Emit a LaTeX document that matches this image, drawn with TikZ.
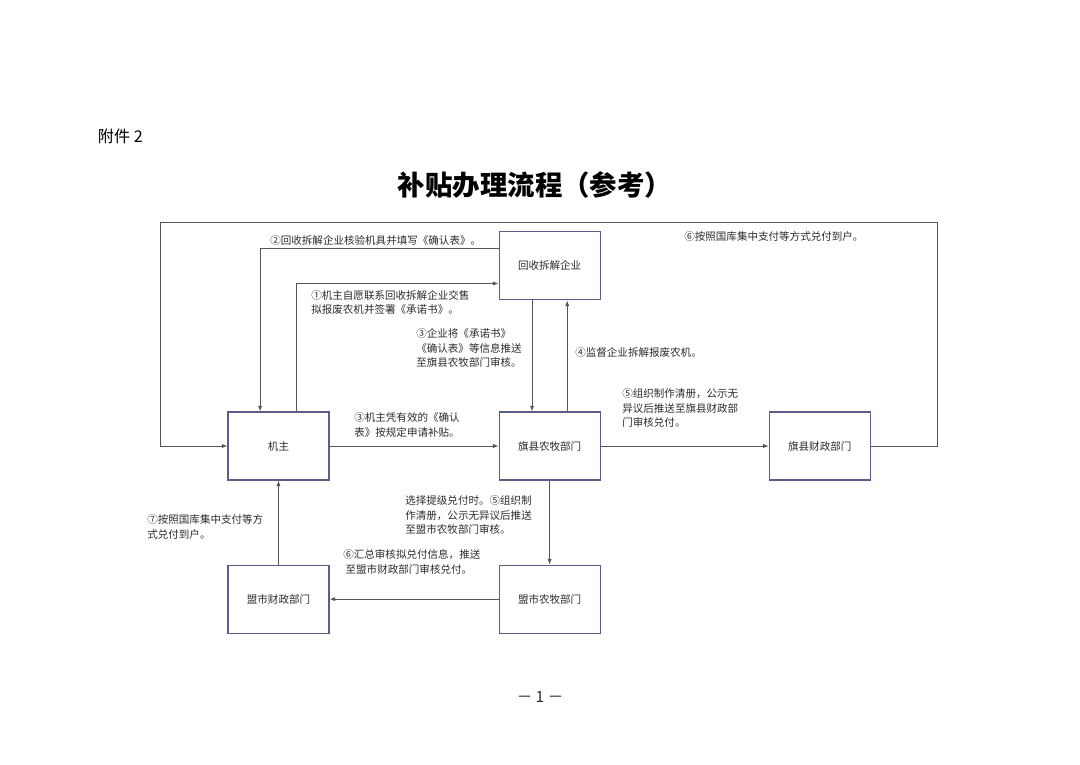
\documentclass[tikz,border=0pt]{standalone}
\usepackage{fontspec}
\setmainfont{Noto Sans CJK SC}
\usetikzlibrary{positioning,arrows.meta}
\definecolor{boxline}{HTML}{5A5C8A}
\definecolor{edgeline}{HTML}{555555}
\definecolor{txt}{HTML}{2B2B2B}
\tikzset{
	box/.style={draw=boxline, line width=0.8pt, minimum width=2.525cm, minimum height=1.7cm, font=\fontsize{7.5}{9}\selectfont, text=txt},
	arr/.style={-{Latex[length=4pt,width=3pt]}, draw=edgeline, line width=0.6pt},
	lab/.style={font=\fontsize{7.5}{10.5}\selectfont, text=txt, align=left, inner sep=0pt, anchor=west},
}
\begin{document}
\begin{tikzpicture}
		\useasboundingbox (0,0) rectangle (27,-19.1);
		% page head
		\node[anchor=west, font=\fontsize{11.5}{13}\selectfont] (fujian) at (2.325,-3.4) {附件 2};
		\node[font=\fontsize{19.5}{22}\selectfont\bfseries] (title) at (13.375,-4.625) {补贴办理流程（参考）};
		\node[font=\fontsize{11}{13}\selectfont, text=txt] (pagenum) at (13.5,-17.425) {－ 1 －};
		% boxes
		\node[box] (jizhu) at (6.9625,-11.15) {机主};
		\node[box, right=4.225cm of jizhu] (qxnm) {旗县农牧部门};
		\node[box, above=2.775cm of qxnm] (huishou) {回收拆解企业};
		\node[box, right=4.2cm of qxnm] (qxcz) {旗县财政部门};
		\node[box, below=2.1cm of qxnm] (msnm) {盟市农牧部门};
		\node[box, below=2.1cm of jizhu] (mscz) {盟市财政部门};
		% corners of the outer loop
		\coordinate (ne) at (23.425,-5.55);
		\coordinate (nw) at (4.0,-5.55);
		% labels
		\node[lab] (lab2) at (6.75,-6.0) {②回收拆解企业核验机具并填写《确认表》。};
		\node[lab] (lab1) at (7.775,-7.5625) {①机主自愿联系回收拆解企业交售\\拟报废农机并签署《承诺书》。};
		\node[lab] (lab3a) at (10.4,-8.7) {③企业将《承诺书》\\《确认表》等信息推送\\至旗县农牧部门审核。};
		\node[lab] (lab4) at (14.375,-8.8) {④监督企业拆解报废农机。};
		\node[lab] (lab3b) at (8.85,-10.63) {③机主凭有效的《确认\\表》按规定申请补贴。};
		\node[lab] (lab5) at (15.55,-10.2) {⑤组织制作清册，公示无\\异议后推送至旗县财政部\\门审核兑付。};
		\node[lab] (lab6a) at (17.1,-5.9) {⑥按照国库集中支付等方式兑付到户。};
		\node[lab] (lab5b) at (10.125,-12.875) {选择提级兑付时。⑤组织制\\作清册，公示无异议后推送\\至盟市农牧部门审核。};
		\node[lab] (lab6b) at (8.575,-14.05) {⑥汇总审核拟兑付信息，推送\\\ 至盟市财政部门审核兑付。};
		\node[lab] (lab7) at (3.675,-13.175) {⑦按照国库集中支付等方\\式兑付到户。};
		% edges
		\draw[arr] ([xshift=0.44cm]jizhu.north) |- ([yshift=-0.44cm]huishou.west);
		\draw[arr] ([yshift=0.44cm]huishou.west) -| ([xshift=-0.46cm]jizhu.north);
		\draw[arr] ([xshift=-0.44cm]huishou.south) -- ([xshift=-0.44cm]qxnm.north);
		\draw[arr] ([xshift=0.44cm]qxnm.north) -- ([xshift=0.44cm]huishou.south);
		\draw[arr] (jizhu) -- (qxnm);
		\draw[arr] (qxnm) -- (qxcz);
		\draw[arr] (qxcz.east) -| (ne) -- (nw) |- (jizhu.west);
		\draw[arr] (qxnm) -- (msnm);
		\draw[arr] (msnm) -- (mscz);
		\draw[arr] (mscz) -- (jizhu);
\end{tikzpicture}
\end{document}
